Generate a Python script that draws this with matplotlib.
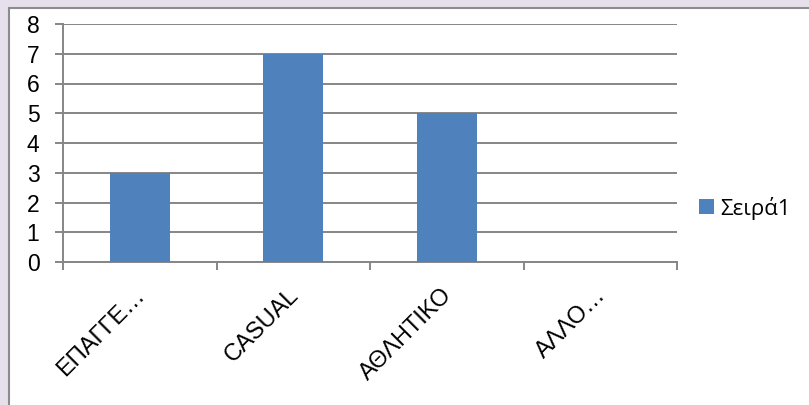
import matplotlib

matplotlib.use("Agg")
import matplotlib.pyplot as plt
import matplotlib.transforms as mtransforms
from matplotlib.patches import Rectangle

categories = ["ΕΠΑΓΓΕ…", "CASUAL", "ΑΘΛΗΤΙΚΟ", "ΑΛΛΟ…"]
values = [3, 7, 5, 0]
series_name = "Σειρά1"
y_ticks = [0, 1, 2, 3, 4, 5, 6, 7, 8]

BAR_COLOR = "#4F81BD"
GRID_COLOR = "#868686"
BG_COLOR = "#E5E0EC"

plt.rcParams["font.family"] = ["Liberation Sans", "DejaVu Sans"]

W, H = 809, 405
fig = plt.figure(figsize=(W / 100, H / 100), dpi=100)
fig.patch.set_facecolor(BG_COLOR)

# white chart area with grey frame (behind the axes)
fig.patches.append(
    Rectangle((8.5 / W, -0.1), 1.0, 1.1 - 7.5 / H, transform=fig.transFigure,
              facecolor="white", edgecolor="#8C8C8C", linewidth=1.5, zorder=-10)
)

ax = fig.add_axes([63 / W, (H - 262) / H, (677 - 63) / W, (262 - 24) / H])
ax.set_facecolor("white")

x = list(range(len(categories)))
ax.bar(x, values, width=0.39, color=BAR_COLOR, zorder=3, label=series_name)

ax.set_xlim(-0.5, len(categories) - 0.5)
ax.set_ylim(0, 8)
ax.set_yticks(y_ticks)
ax.set_yticklabels([str(t) for t in y_ticks], fontsize=16.5)
ax.yaxis.grid(True, color=GRID_COLOR, linewidth=1.4, zorder=1)
ax.set_axisbelow(True)

# category ticks sit between the groups
ax.set_xticks([i - 0.5 for i in range(len(categories) + 1)], minor=False)
ax.set_xticklabels([])
ax.set_xticks(x, minor=True)
ax.set_xticklabels(categories, minor=True, rotation=45, ha="right",
                   rotation_mode="anchor", fontsize=17)
ax.tick_params(axis="x", which="minor", length=0, pad=16)
ax.tick_params(axis="x", which="major", length=6, width=1.4, color=GRID_COLOR)
ax.tick_params(axis="y", length=6, width=1.4, color=GRID_COLOR, pad=11)

# nudge rotated labels a little to the left, like Excel does
shift = mtransforms.ScaledTranslation(-6 / 100, 0, fig.dpi_scale_trans)
for lbl in ax.get_xticklabels(minor=True):
    lbl.set_transform(lbl.get_transform() + shift)

for side in ("top", "right"):
    ax.spines[side].set_visible(False)
for side in ("left", "bottom"):
    ax.spines[side].set_color(GRID_COLOR)
    ax.spines[side].set_linewidth(1.4)

fig.legend(loc="center left", bbox_to_anchor=(699 / W, (H - 208) / H),
           frameon=False, borderpad=0, borderaxespad=0,
           handlelength=0.68, handleheight=0.68, handletextpad=0.27,
           prop={"family": ["Open Sans", "DejaVu Sans"], "size": 16})

fig.savefig("out.png", dpi=100, facecolor=fig.get_facecolor())
